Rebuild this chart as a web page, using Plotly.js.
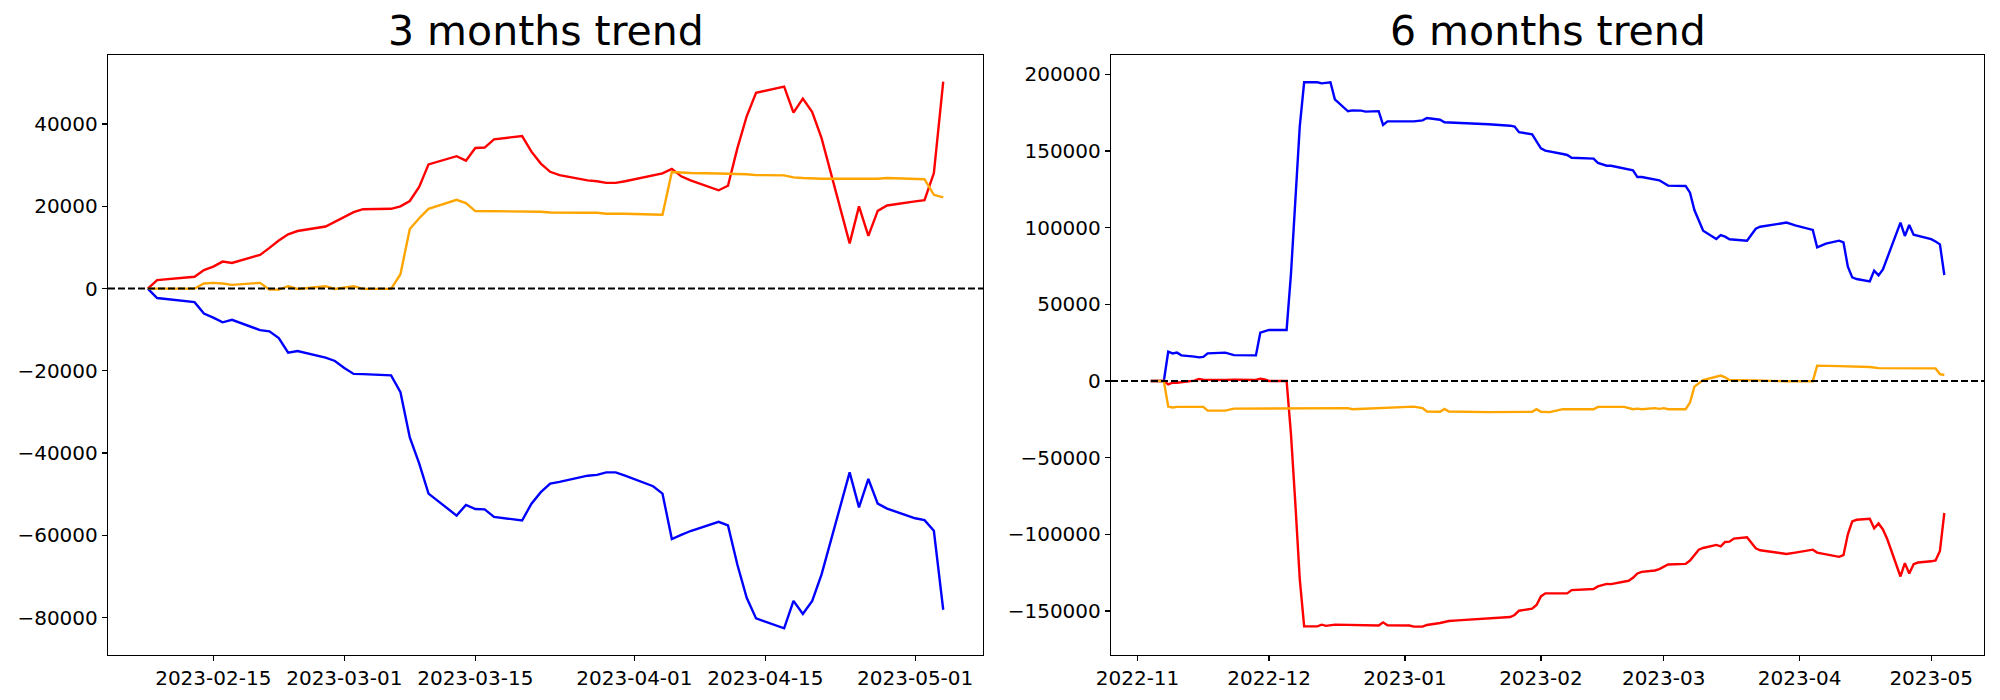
<!DOCTYPE html>
<html>
<head>
<meta charset="utf-8">
<script src="https://cdn.plot.ly/plotly-3.0.1.min.js"></script>
<style>html,body{margin:0;padding:0;background:#fff;}#chart{width:2000px;height:700px;}</style>
</head>
<body>
<div id="chart"></div>
<script>
// ---------- 3 months trend ----------
const dates3 = ["2023-02-08","2023-02-09","2023-02-13","2023-02-14","2023-02-15","2023-02-16","2023-02-17",
"2023-02-20","2023-02-21","2023-02-22","2023-02-23","2023-02-24","2023-02-27","2023-02-28","2023-03-01",
"2023-03-02","2023-03-03","2023-03-06","2023-03-07","2023-03-08","2023-03-09","2023-03-10","2023-03-13",
"2023-03-14","2023-03-15","2023-03-16","2023-03-17","2023-03-20","2023-03-21","2023-03-22","2023-03-23",
"2023-03-24","2023-03-27","2023-03-28","2023-03-29","2023-03-30","2023-03-31","2023-04-03","2023-04-04",
"2023-04-05","2023-04-06","2023-04-07","2023-04-10","2023-04-11","2023-04-12","2023-04-13","2023-04-14",
"2023-04-17","2023-04-18","2023-04-19","2023-04-20","2023-04-21","2023-04-24","2023-04-25","2023-04-26",
"2023-04-27","2023-04-28","2023-05-01","2023-05-02","2023-05-03","2023-05-04"];
const red3 = [0,2050,2870,4500,5330,6560,6230,8200,9900,11700,13200,14000,15100,16300,17500,18600,19300,19400,
20000,21300,24700,30200,32200,31100,34200,34300,36300,37100,33300,30400,28400,27600,26300,26100,25700,25700,
26100,27500,28000,29100,27300,26300,23900,25000,34100,41900,47600,49100,42800,46200,42900,36600,11000,20000,
12800,18900,20200,21200,21500,28100,50300];
const orange3 = [0,0,0,1230,1390,1230,900,1390,-250,-250,570,-80,570,-80,250,570,-80,-80,3500,14500,17100,19400,
21600,20800,18850,18850,18770,18770,18700,18700,18500,18440,18440,18440,18200,18200,18200,18000,17950,28360,
28200,28100,28000,28000,27870,27800,27600,27540,27050,26900,26800,26700,26700,26700,26700,26700,26900,26700,
26600,22800,22200];
const blue3 = [0,-2300,-3300,-6070,-7050,-8200,-7600,-10100,-10400,-12050,-15600,-15200,-16800,-17600,-19300,
-20750,-20800,-21100,-25200,-36200,-42500,-49850,-55200,-52600,-53600,-53700,-55500,-56400,-52300,-49500,-47400,
-47000,-45500,-45300,-44700,-44700,-45500,-48050,-49850,-60900,-59900,-58950,-56700,-57600,-67100,-75200,-80200,
-82600,-75950,-79100,-75950,-69500,-44700,-53200,-46300,-52300,-53500,-55850,-56300,-58900,-78100];
const xTicks3 = ["2023-02-15","2023-03-01","2023-03-15","2023-04-01","2023-04-15","2023-05-01"];
const yTicks3 = [-80000,-60000,-40000,-20000,0,20000,40000];

// ---------- 6 months trend ----------
const blueDates6 = ["2022-11-04","2022-11-07","2022-11-08","2022-11-09","2022-11-10","2022-11-11","2022-11-14",
"2022-11-15","2022-11-16","2022-11-17","2022-11-21","2022-11-22","2022-11-23","2022-11-28","2022-11-29","2022-12-01",
"2022-12-05","2022-12-06","2022-12-07","2022-12-08","2022-12-09","2022-12-12","2022-12-13","2022-12-15","2022-12-16",
"2022-12-19","2022-12-20","2022-12-22","2022-12-23","2022-12-26","2022-12-27","2022-12-28","2023-01-03","2023-01-05",
"2023-01-06","2023-01-09","2023-01-10","2023-01-13","2023-01-18","2023-01-20","2023-01-25","2023-01-26","2023-01-27",
"2023-01-30","2023-02-01","2023-02-02","2023-02-06","2023-02-07","2023-02-08","2023-02-13","2023-02-14","2023-02-16",
"2023-02-17","2023-02-21","2023-02-22","2023-02-23","2023-02-24","2023-02-28","2023-03-02","2023-03-06","2023-03-07",
"2023-03-08","2023-03-10","2023-03-13","2023-03-14","2023-03-15","2023-03-16","2023-03-20","2023-03-22","2023-03-23",
"2023-03-27","2023-03-29","2023-03-31","2023-04-03","2023-04-04","2023-04-05","2023-04-07","2023-04-10","2023-04-11",
"2023-04-12","2023-04-13","2023-04-14","2023-04-17","2023-04-18","2023-04-19","2023-04-20","2023-04-24","2023-04-25",
"2023-04-26","2023-04-27","2023-05-01","2023-05-02","2023-05-03","2023-05-04"];
const blue6 = [0,0,19100,18000,18500,16700,15900,15400,15700,18000,18500,17600,16900,16700,31500,33300,33300,70000,
120000,166000,194800,194800,194100,194800,183700,175900,176500,176300,175700,176000,167000,169300,169300,170000,
171500,170400,168700,168400,168000,167400,166500,165900,162300,160900,151700,150200,148000,147400,145600,145000,
142200,140400,140400,138000,137400,133000,133000,130900,127400,127200,122800,111500,98000,92600,95200,94100,92400,
91500,99300,100600,102400,103300,101500,99500,98500,87200,89600,91500,90400,74600,67600,66500,65000,72000,68900,
72800,103300,94600,101700,95400,92500,91000,89100,69100];

const redDates6 = ["2022-11-04","2022-11-07","2022-11-08","2022-11-09","2022-11-10","2022-11-14","2022-11-15",
"2022-11-16","2022-11-21","2022-11-23","2022-11-28","2022-11-29","2022-11-30","2022-12-01","2022-12-05","2022-12-06",
"2022-12-07","2022-12-08","2022-12-09","2022-12-12","2022-12-13","2022-12-14","2022-12-16","2022-12-19","2022-12-22",
"2022-12-26","2022-12-27","2022-12-28","2023-01-02","2023-01-03","2023-01-05","2023-01-06","2023-01-09","2023-01-11",
"2023-01-13","2023-01-19","2023-01-25","2023-01-26","2023-01-27","2023-01-30","2023-01-31","2023-02-01","2023-02-02",
"2023-02-07","2023-02-08","2023-02-13","2023-02-14","2023-02-16","2023-02-17","2023-02-21","2023-02-22","2023-02-23",
"2023-02-24","2023-02-27","2023-02-28","2023-03-02","2023-03-06","2023-03-07","2023-03-08","2023-03-09","2023-03-10",
"2023-03-13","2023-03-14","2023-03-15","2023-03-16","2023-03-17","2023-03-20","2023-03-22","2023-03-23","2023-03-27",
"2023-03-29","2023-03-31","2023-04-04","2023-04-05","2023-04-10","2023-04-11","2023-04-12","2023-04-13","2023-04-14",
"2023-04-17","2023-04-18","2023-04-19","2023-04-20","2023-04-21","2023-04-24","2023-04-25","2023-04-26","2023-04-27",
"2023-04-28","2023-05-01","2023-05-02","2023-05-03","2023-05-04"];
const red6 = [0,0,-2200,-1100,-1100,200,1300,900,650,900,650,1500,1100,0,0,-34800,-80300,-129200,-160000,-160000,
-158900,-159700,-158900,-159100,-159500,-159500,-157400,-159300,-159500,-160200,-160200,-159100,-157800,-156500,
-156100,-155200,-153900,-152600,-149800,-148500,-146100,-140500,-138500,-138500,-136400,-135700,-134000,-132300,
-132500,-130300,-128400,-125500,-124500,-123600,-122700,-119700,-119300,-117100,-113600,-110000,-108900,-106900,
-107800,-105000,-104800,-102800,-101900,-109100,-110400,-111900,-112800,-111900,-110000,-111900,-114700,-113600,
-100000,-91600,-90500,-89800,-96100,-92900,-96800,-103200,-127500,-118800,-125500,-119500,-118400,-117600,-117100,
-110800,-86100];

const orangeDates6 = ["2022-11-04","2022-11-07","2022-11-08","2022-11-09","2022-11-10","2022-11-16","2022-11-17",
"2022-11-21","2022-11-23","2022-12-07","2022-12-19","2022-12-20","2022-12-26","2023-01-02","2023-01-03","2023-01-05",
"2023-01-06","2023-01-09","2023-01-10","2023-01-11","2023-01-20","2023-01-30","2023-01-31","2023-02-01","2023-02-03",
"2023-02-06","2023-02-13","2023-02-14","2023-02-16","2023-02-20","2023-02-22","2023-02-23","2023-02-24","2023-02-27",
"2023-02-28","2023-03-01","2023-03-02","2023-03-06","2023-03-07","2023-03-08","2023-03-10","2023-03-13","2023-03-14",
"2023-03-15","2023-03-16","2023-03-22","2023-03-29","2023-04-04","2023-04-05","2023-04-10","2023-04-17","2023-04-19",
"2023-04-27","2023-05-02","2023-05-03","2023-05-04"];
const orange6 = [0,0,-16700,-17300,-16900,-16900,-19300,-19300,-18000,-18000,-17700,-18400,-17700,-17300,-16700,
-17700,-19900,-20100,-18200,-19900,-20300,-20100,-18400,-20100,-20300,-18400,-18400,-16900,-16900,-16900,-18400,
-18000,-18400,-17700,-18200,-17700,-18400,-18400,-14100,-3700,650,2500,3500,2400,650,400,-200,-200,10000,9700,
9100,8400,8400,8200,4500,3900];
const xTicks6 = ["2022-11-01","2022-12-01","2023-01-01","2023-02-01","2023-03-01","2023-04-01","2023-05-01"];
const xTickText6 = ["2022-11","2022-12","2023-01","2023-02","2023-03","2023-04","2023-05"];
const yTicks6 = [-150000,-100000,-50000,0,50000,100000,150000,200000];

const titles = ["3 months trend","6 months trend"];

// ---------- drawing ----------
const FONT = "DejaVu Sans, Liberation Sans, sans-serif";
const lw = 2.4;
function tr(x, y, color, xa, ya) {
  return {x: x, y: y, type: "scatter", mode: "lines", line: {color: color, width: lw}, xaxis: xa, yaxis: ya, showlegend: false, hoverinfo: "skip"};
}
const data = [
  tr(dates3, blue3, "#0000ff", "x", "y"),
  tr(dates3, red3, "#ff0000", "x", "y"),
  tr(dates3, orange3, "#ffa500", "x", "y"),
  tr(blueDates6, blue6, "#0000ff", "x2", "y2"),
  tr(redDates6, red6, "#ff0000", "x2", "y2"),
  tr(orangeDates6, orange6, "#ffa500", "x2", "y2")
];

const axBase = {
  showline: true, mirror: true, linecolor: "#000", linewidth: 1.2,
  showgrid: false, zeroline: false, ticks: "outside", ticklen: 5, tickwidth: 1.2, tickcolor: "#000",
  tickfont: {family: FONT, size: 20, color: "#000"}, fixedrange: true
};
const yD = [1 - 655/700, 1 - 55/700];
const layout = {
  width: 2000, height: 700,
  margin: {l: 0, r: 0, t: 0, b: 0, pad: 0},
  paper_bgcolor: "#fff", plot_bgcolor: "#fff",
  font: {family: FONT, color: "#000"},
  xaxis: Object.assign({}, axBase, {type: "date", domain: [108/2000, 983/2000], anchor: "y",
    range: ["2023-02-03 18:00", "2023-05-08 06:00"], tickmode: "array", tickvals: xTicks3, ticktext: xTicks3}),
  yaxis: Object.assign({}, axBase, {domain: yD, anchor: "x", range: [-89100, 56800],
    tickmode: "array", tickvals: yTicks3, ticktext: yTicks3.map(v => v < 0 ? "\u2212" + Math.abs(v) : String(v))}),
  xaxis2: Object.assign({}, axBase, {type: "date", domain: [1111/2000, 1984/2000], anchor: "y2",
    range: ["2022-10-25 22:48", "2023-05-13 01:12"], tickmode: "array", tickvals: xTicks6, ticktext: xTickText6}),
  yaxis2: Object.assign({}, axBase, {domain: yD, anchor: "x2", range: [-178700, 212600],
    tickmode: "array", tickvals: yTicks6, ticktext: yTicks6.map(v => v < 0 ? "\u2212" + Math.abs(v) : String(v))}),
  shapes: [
    {type: "line", xref: "x domain", yref: "y", x0: 0, x1: 1, y0: 0, y1: 0, layer: "above",
     line: {color: "#000", width: 2, dash: "7px,3px"}},
    {type: "line", xref: "x2 domain", yref: "y2", x0: 0, x1: 1, y0: 0, y1: 0, layer: "above",
     line: {color: "#000", width: 2, dash: "7px,3px"}}
  ],
  annotations: [
    {text: titles[0], xref: "paper", yref: "paper", x: (108+983)/4000, y: yD[1], xanchor: "center", yanchor: "bottom",
     yshift: -2, showarrow: false, font: {family: FONT, size: 41, color: "#000"}},
    {text: titles[1], xref: "paper", yref: "paper", x: (1111+1984)/4000, y: yD[1], xanchor: "center", yanchor: "bottom",
     yshift: -2, showarrow: false, font: {family: FONT, size: 41, color: "#000"}}
  ]
};
Plotly.newPlot("chart", data, layout, {staticPlot: true, displayModeBar: false});
</script>
</body>
</html>
